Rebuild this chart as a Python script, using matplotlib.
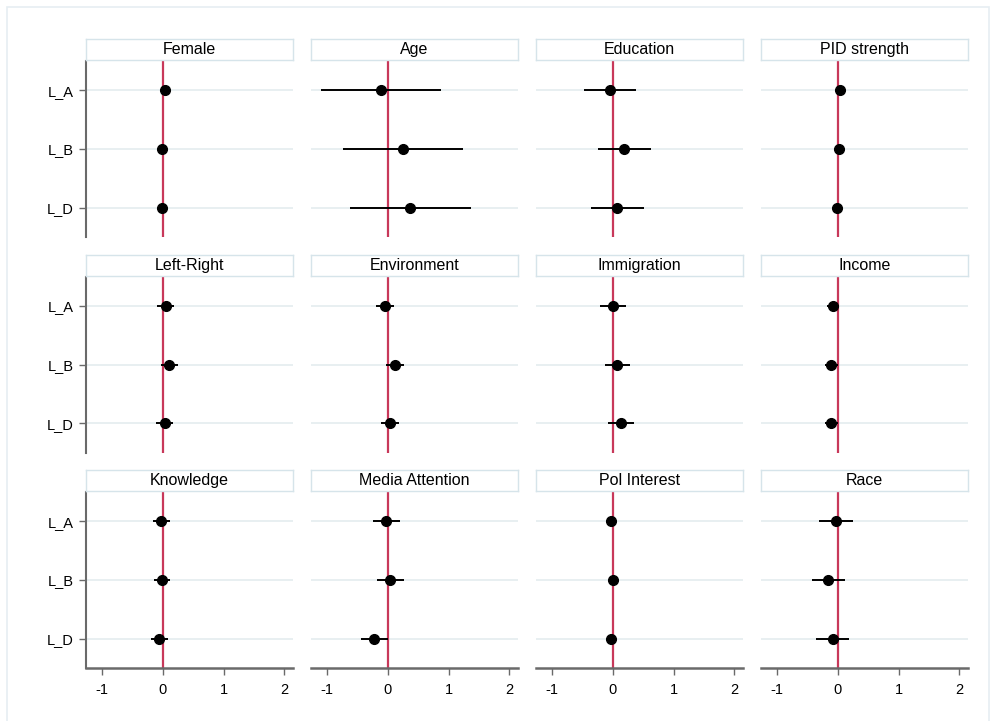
import numpy as np
import matplotlib.pyplot as plt
from matplotlib.patches import Rectangle

plt.rcParams['font.family'] = ['Liberation Sans', 'DejaVu Sans']

panels = ["Female", "Age", "Education", "PID strength",
          "Left-Right", "Environment", "Immigration", "Income",
          "Knowledge", "Media Attention", "Pol Interest", "Race"]
models = ["L_A", "L_B", "L_D"]

# point estimates (rows: panels, cols: L_A, L_B, L_D)
est = [
    [0.03, -0.02, -0.02],
    [-0.12, 0.24, 0.37],
    [-0.05, 0.18, 0.07],
    [0.03, 0.02, -0.01],
    [0.05, 0.10, 0.03],
    [-0.05, 0.12, 0.03],
    [0.00, 0.07, 0.13],
    [-0.09, -0.11, -0.11],
    [-0.03, -0.02, -0.06],
    [-0.03, 0.04, -0.23],
    [-0.03, 0.00, -0.03],
    [-0.04, -0.17, -0.09],
]
lo = [
    [0.01, -0.04, -0.04],
    [-1.11, -0.75, -0.62],
    [-0.48, -0.25, -0.36],
    [0.01, 0.00, -0.03],
    [-0.10, -0.03, -0.11],
    [-0.19, -0.03, -0.12],
    [-0.21, -0.13, -0.08],
    [-0.18, -0.21, -0.21],
    [-0.16, -0.15, -0.19],
    [-0.25, -0.18, -0.45],
    [-0.05, -0.02, -0.05],
    [-0.32, -0.43, -0.36],
]
hi = [
    [0.05, 0.00, 0.00],
    [0.87, 1.24, 1.37],
    [0.38, 0.63, 0.51],
    [0.05, 0.04, 0.01],
    [0.19, 0.24, 0.17],
    [0.10, 0.26, 0.18],
    [0.21, 0.28, 0.34],
    [0.02, 0.00, 0.00],
    [0.11, 0.12, 0.08],
    [0.20, 0.27, 0.00],
    [-0.01, 0.02, -0.01],
    [0.24, 0.11, 0.19],
]
xticks = [-1, 0, 1, 2]

W, H = 990, 721
fig = plt.figure(figsize=(9.9, 7.21), dpi=100)
# light outer frame, open at the bottom like the reference crop
fig.patches.append(Rectangle((7 / W, -10 / H), 982 / W, 724 / H, transform=fig.transFigure,
                             fill=False, edgecolor="#e6eef2", lw=1.2))

col_left = [86, 311, 536, 761]
row_top = [61, 276.5, 492]
aw, ah = 207, 176
red = "#c8385a"
grid_c = "#e6eef0"
spine_c = "#6a6a6a"

for k, name in enumerate(panels):
    r, c = divmod(k, 4)
    x0, y0 = col_left[c], row_top[r]
    ax = fig.add_axes([x0 / W, 1 - (y0 + ah) / H, aw / W, ah / H])
    ypos = np.arange(1, 4)
    for yy in ypos:
        ax.axhline(yy, color=grid_c, lw=1.3, zorder=0)
    ax.axvline(0, color=red, lw=1.6, zorder=1)
    e = np.array(est[k]); l = np.array(lo[k]); h = np.array(hi[k])
    ax.hlines(ypos, l, h, color="black", lw=1.4, zorder=2)
    ax.plot(e, ypos, "o", color="black", ms=7, zorder=3)
    ax.set_xlim(-1.27, 2.145)
    ax.set_ylim(3.5, 0.5)
    for s in ["top", "right"]:
        ax.spines[s].set_visible(False)
    ax.spines["left"].set_color(spine_c)
    ax.spines["left"].set_linewidth(1.5)
    ax.spines["bottom"].set_color(spine_c)
    ax.spines["bottom"].set_linewidth(1.8)
    if c == 0:
        ax.set_yticks(ypos)
        ax.set_yticklabels(models, fontsize=10.5)
        ax.tick_params(axis="y", length=5, width=1, color=spine_c, pad=4)
    else:
        ax.spines["left"].set_visible(False)
        ax.set_yticks([])
    if r == 2:
        ax.set_xticks(xticks)
        ax.set_xticklabels([str(t) for t in xticks], fontsize=10.5)
        ax.tick_params(axis="x", length=5, width=1, color=spine_c, pad=6)
    else:
        ax.spines["bottom"].set_visible(False)
        ax.set_xticks([])
    # strip title box
    sax = fig.add_axes([x0 / W, 1 - (y0 - 1) / H, aw / W, 21 / H])
    sax.set_xticks([]); sax.set_yticks([])
    for s in sax.spines.values():
        s.set_color("#d6e4ea")
        s.set_linewidth(1)
    sax.text(0.5, 0.5, name, ha="center", va="center", fontsize=11.5)

fig.savefig("out.png", dpi=100)
